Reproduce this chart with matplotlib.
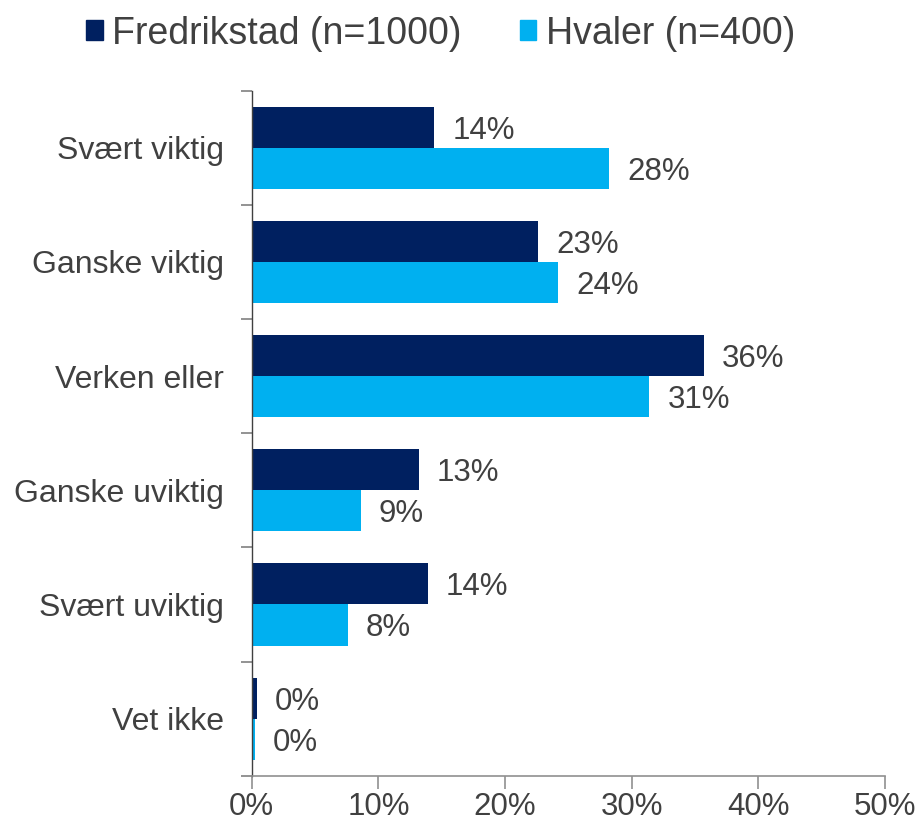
import matplotlib
matplotlib.use("Agg")
import matplotlib.pyplot as plt
import numpy as np
from matplotlib.patches import Patch

plt.rcParams['font.family'] = ['Liberation Sans', 'DejaVu Sans']

categories = ["Svært viktig", "Ganske viktig", "Verken eller", "Ganske uviktig", "Svært uviktig", "Vet ikke"]
fredrikstad = [14.4, 22.6, 35.7, 13.2, 13.9, 0.4]
hvaler = [28.2, 24.2, 31.4, 8.6, 7.6, 0.25]
fredrikstad_labels = ["14%", "23%", "36%", "13%", "14%", "0%"]
hvaler_labels = ["28%", "24%", "31%", "9%", "8%", "0%"]
series_names = ["Fredrikstad (n=1000)", "Hvaler (n=400)"]
xticks = [0, 10, 20, 30, 40, 50]

c_dark = "#002060"
c_light = "#00B0F0"
txt = "#404040"

fig = plt.figure(figsize=(9.21, 8.26), dpi=100)
ax = fig.add_axes([0.2733, 0.0609, 0.961 - 0.2733, 0.8902 - 0.0609])

y = np.arange(len(categories))
h = 0.36
b1 = ax.barh(y - h / 2, fredrikstad, height=h, color=c_dark, label=series_names[0])
b2 = ax.barh(y + h / 2, hvaler, height=h, color=c_light, label=series_names[1])

for yy, v, lab in zip(y - h / 2, fredrikstad, fredrikstad_labels):
    ax.annotate(lab, (v, yy), xytext=(13, -2.5), textcoords='offset points',
                ha='left', va='center', fontsize=22.5, color=txt)
for yy, v, lab in zip(y + h / 2, hvaler, hvaler_labels):
    ax.annotate(lab, (v, yy), xytext=(13, -2.5), textcoords='offset points',
                ha='left', va='center', fontsize=22.5, color=txt)

ax.set_xlim(0, 50)
ax.set_ylim(len(categories) - 0.5, -0.5)
ax.set_xticks(xticks)
ax.set_xticklabels([f"{v}%" for v in xticks], fontsize=22.5, color=txt)
ax.set_yticks(y)
ax.set_yticklabels(categories, fontsize=23, color=txt)
ax.tick_params(axis='y', which='major', length=0, pad=20)
ax.set_yticks(np.arange(-0.5, len(categories) + 0.5, 1), minor=True)
ax.tick_params(axis='y', which='minor', length=8, color="#808080", width=1.2)
ax.tick_params(axis='x', which='major', length=9, color="#909090", width=1.2, pad=3)

for s in ['top', 'right']:
    ax.spines[s].set_visible(False)
ax.spines['left'].set_color("#404040")
ax.spines['bottom'].set_color("#909090")
ax.spines['left'].set_linewidth(1.0)
ax.spines['bottom'].set_linewidth(1.2)

handles = [Patch(color=c_dark), Patch(color=c_light)]
fig.legend(handles, series_names, loc='upper left', bbox_to_anchor=(0.057, 1.022), ncol=2,
           frameon=False, fontsize=27, handlelength=0.44, handleheight=0.44,
           handletextpad=0.25, columnspacing=1.55, labelcolor=txt)

fig.savefig("out.png", dpi=100)
